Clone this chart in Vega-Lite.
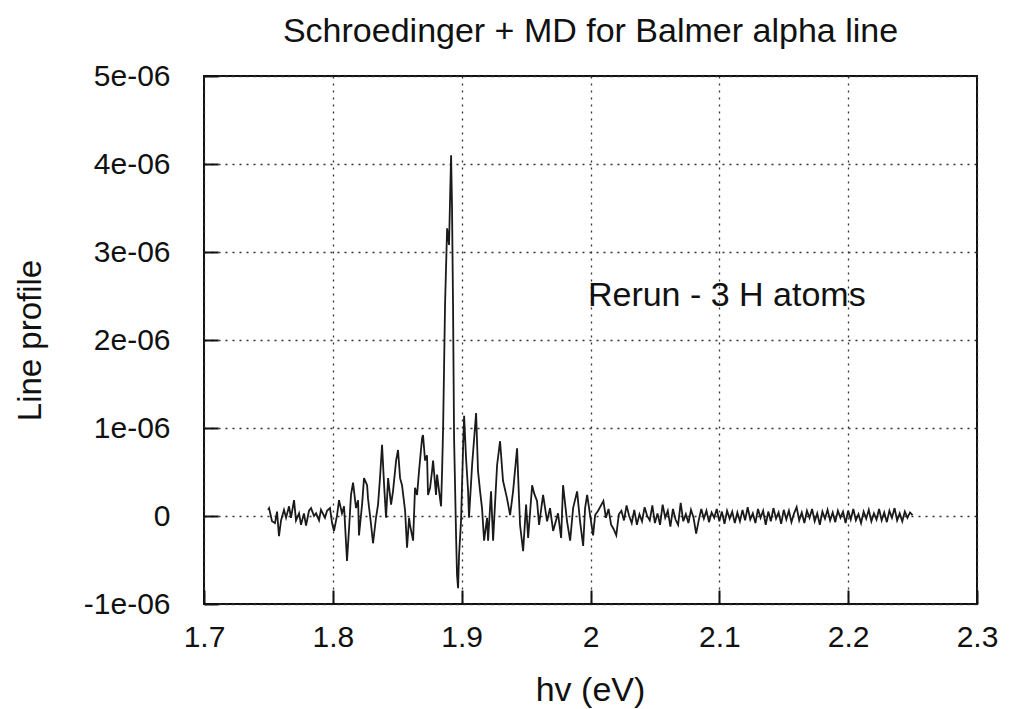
{
  "$schema": "https://vega.github.io/schema/vega-lite/v6.json",
  "width": 773,
  "height": 528,
  "autosize": {"type": "none"},
  "padding": {"left": 204, "top": 76, "right": 32, "bottom": 105},
  "background": "white",
  "title": {"text": "Schroedinger + MD for Balmer alpha line", "fontSize": 34, "font": "Liberation Sans", "fontWeight": "normal", "color": "#111", "offset": 12, "anchor": "middle"},
  "config": {"view": {"stroke": "#111", "strokeWidth": 2}},
  "layer": [
    {
      "data": {"values": [
        {"x": 1.7497, "y": 0.07e-6}, {"x": 1.7505, "y": 0.09e-6}, {"x": 1.7528, "y": -0.06e-6}, {"x": 1.7551, "y": -0.08e-6},
        {"x": 1.7567, "y": 0.05e-6}, {"x": 1.7582, "y": -0.23e-6}, {"x": 1.7598, "y": -0.05e-6}, {"x": 1.7621, "y": 0.07e-6},
        {"x": 1.7637, "y": -0.02e-6}, {"x": 1.7660, "y": 0.11e-6}, {"x": 1.7675, "y": -0.02e-6}, {"x": 1.7699, "y": 0.18e-6},
        {"x": 1.7714, "y": -0.05e-6}, {"x": 1.7738, "y": 0.03e-6}, {"x": 1.7753, "y": -0.10e-6}, {"x": 1.7776, "y": 0.03e-6},
        {"x": 1.7792, "y": -0.11e-6}, {"x": 1.7815, "y": 0.06e-6}, {"x": 1.7831, "y": 0.09e-6}, {"x": 1.7854, "y": 0},
        {"x": 1.7870, "y": 0.03e-6}, {"x": 1.7893, "y": -0.05e-6}, {"x": 1.7908, "y": 0.07e-6}, {"x": 1.7939, "y": -0.02e-6},
        {"x": 1.7955, "y": 0.06e-6}, {"x": 1.7978, "y": 0.09e-6}, {"x": 1.7994, "y": -0.08e-6}, {"x": 1.8009, "y": -0.17e-6},
        {"x": 1.8033, "y": 0.01e-6}, {"x": 1.8048, "y": 0.18e-6}, {"x": 1.8071, "y": 0.03e-6}, {"x": 1.8087, "y": 0.11e-6},
        {"x": 1.8110, "y": -0.51e-6}, {"x": 1.8126, "y": -0.14e-6}, {"x": 1.8141, "y": 0.24e-6}, {"x": 1.8157, "y": 0.38e-6},
        {"x": 1.8180, "y": 0.09e-6}, {"x": 1.8196, "y": 0.18e-6}, {"x": 1.8203, "y": -0.22e-6}, {"x": 1.8227, "y": 0.13e-6},
        {"x": 1.8242, "y": 0.43e-6}, {"x": 1.8266, "y": 0.35e-6}, {"x": 1.8273, "y": 0.20e-6}, {"x": 1.8297, "y": -0.10e-6},
        {"x": 1.8312, "y": -0.31e-6}, {"x": 1.8335, "y": -0.02e-6}, {"x": 1.8351, "y": 0.13e-6}, {"x": 1.8366, "y": 0.43e-6},
        {"x": 1.8382, "y": 0.81e-6}, {"x": 1.8398, "y": 0.35e-6}, {"x": 1.8413, "y": -0.02e-6}, {"x": 1.8429, "y": 0.43e-6},
        {"x": 1.8452, "y": 0.13e-6}, {"x": 1.8467, "y": 0.28e-6}, {"x": 1.8491, "y": 0.63e-6}, {"x": 1.8506, "y": 0.75e-6},
        {"x": 1.8522, "y": 0.43e-6}, {"x": 1.8537, "y": 0.35e-6}, {"x": 1.8561, "y": 0.06e-6}, {"x": 1.8576, "y": -0.36e-6},
        {"x": 1.8592, "y": -0.02e-6}, {"x": 1.8599, "y": -0.10e-6}, {"x": 1.8615, "y": -0.22e-6}, {"x": 1.8623, "y": -0.28e-6},
        {"x": 1.8638, "y": 0.32e-6}, {"x": 1.8654, "y": 0.24e-6}, {"x": 1.8669, "y": 0.51e-6}, {"x": 1.8693, "y": 0.89e-6},
        {"x": 1.8700, "y": 0.92e-6}, {"x": 1.8716, "y": 0.63e-6}, {"x": 1.8731, "y": 0.69e-6}, {"x": 1.8739, "y": 0.24e-6},
        {"x": 1.8755, "y": 0.32e-6}, {"x": 1.8770, "y": 0.51e-6}, {"x": 1.8778, "y": 0.63e-6}, {"x": 1.8801, "y": 0.24e-6},
        {"x": 1.8809, "y": 0.47e-6}, {"x": 1.8825, "y": 0.28e-6}, {"x": 1.8840, "y": 0.11e-6}, {"x": 1.8848, "y": 0.51e-6},
        {"x": 1.8856, "y": 1.00e-6}, {"x": 1.8871, "y": 2.40e-6}, {"x": 1.8887, "y": 3.27e-6}, {"x": 1.8902, "y": 3.08e-6},
        {"x": 1.8910, "y": 3.61e-6}, {"x": 1.8918, "y": 4.10e-6}, {"x": 1.8925, "y": 3.53e-6}, {"x": 1.8933, "y": 2.40e-6},
        {"x": 1.8941, "y": 0.89e-6}, {"x": 1.8957, "y": -0.25e-6}, {"x": 1.8964, "y": -0.67e-6}, {"x": 1.8972, "y": -0.82e-6},
        {"x": 1.8980, "y": -0.44e-6}, {"x": 1.8995, "y": -0.06e-6}, {"x": 1.9011, "y": 0.77e-6}, {"x": 1.9019, "y": 1.14e-6},
        {"x": 1.9034, "y": 0.66e-6}, {"x": 1.9050, "y": 0.28e-6}, {"x": 1.9057, "y": -0.02e-6}, {"x": 1.9081, "y": 0.58e-6},
        {"x": 1.9112, "y": 1.17e-6}, {"x": 1.9127, "y": 0.51e-6}, {"x": 1.9143, "y": 0.28e-6}, {"x": 1.9158, "y": 0.09e-6},
        {"x": 1.9174, "y": -0.28e-6}, {"x": 1.9197, "y": -0.02e-6}, {"x": 1.9205, "y": -0.28e-6}, {"x": 1.9228, "y": 0.28e-6},
        {"x": 1.9244, "y": -0.28e-6}, {"x": 1.9275, "y": 0.58e-6}, {"x": 1.9298, "y": 0.85e-6}, {"x": 1.9321, "y": 0.40e-6},
        {"x": 1.9352, "y": 0.20e-6}, {"x": 1.9376, "y": 0.01e-6}, {"x": 1.9399, "y": 0.28e-6}, {"x": 1.9430, "y": 0.77e-6},
        {"x": 1.9453, "y": -0.10e-6}, {"x": 1.9477, "y": -0.40e-6}, {"x": 1.9500, "y": 0.13e-6}, {"x": 1.9516, "y": -0.25e-6},
        {"x": 1.9547, "y": 0.35e-6}, {"x": 1.9562, "y": 0.26e-6}, {"x": 1.9585, "y": 0.17e-6}, {"x": 1.9601, "y": -0.10e-6},
        {"x": 1.9632, "y": 0.24e-6}, {"x": 1.9663, "y": -0.06e-6}, {"x": 1.9686, "y": 0.09e-6}, {"x": 1.9710, "y": -0.17e-6},
        {"x": 1.9748, "y": 0.03e-6}, {"x": 1.9772, "y": -0.25e-6}, {"x": 1.9787, "y": 0.35e-6}, {"x": 1.9818, "y": -0.06e-6},
        {"x": 1.9842, "y": -0.28e-6}, {"x": 1.9865, "y": 0.09e-6}, {"x": 1.9896, "y": 0.28e-6}, {"x": 1.9919, "y": -0.06e-6},
        {"x": 1.9943, "y": -0.34e-6}, {"x": 1.9958, "y": 0.09e-6}, {"x": 1.9974, "y": 0.24e-6}, {"x": 1.9997, "y": 0.01e-6},
        {"x": 2.0020, "y": -0.22e-6}, {"x": 2.0036, "y": 0.01e-6}, {"x": 2.0059, "y": 0.06e-6},
        {"x": 2.010, "y": 0.17e-6}, {"x": 2.012, "y": -0.02e-6}, {"x": 2.014, "y": 0.08e-6}, {"x": 2.016, "y": -0.10e-6},
        {"x": 2.018, "y": -0.15e-6}, {"x": 2.020, "y": -0.22e-6}, {"x": 2.022, "y": 0.02e-6}, {"x": 2.024, "y": 0.06e-6},
        {"x": 2.026, "y": -0.05e-6}, {"x": 2.028, "y": 0.12e-6}, {"x": 2.030, "y": 0.00}, {"x": 2.032, "y": -0.08e-6},
        {"x": 2.034, "y": 0.07e-6}, {"x": 2.036, "y": -0.10e-6}, {"x": 2.038, "y": 0.02e-6}, {"x": 2.040, "y": -0.06e-6},
        {"x": 2.042, "y": 0.10e-6}, {"x": 2.044, "y": 0.00}, {"x": 2.046, "y": -0.05e-6}, {"x": 2.048, "y": 0.12e-6},
        {"x": 2.050, "y": -0.08e-6}, {"x": 2.052, "y": 0.03e-6}, {"x": 2.054, "y": -0.10e-6}, {"x": 2.056, "y": 0.13e-6},
        {"x": 2.058, "y": -0.02e-6}, {"x": 2.060, "y": 0.06e-6}, {"x": 2.062, "y": -0.12e-6}, {"x": 2.064, "y": 0.08e-6},
        {"x": 2.066, "y": -0.04e-6}, {"x": 2.068, "y": -0.10e-6}, {"x": 2.070, "y": 0.15e-6}, {"x": 2.072, "y": -0.06e-6},
        {"x": 2.074, "y": 0.02e-6}, {"x": 2.076, "y": -0.08e-6}, {"x": 2.078, "y": 0.07e-6}, {"x": 2.080, "y": -0.02e-6},
        {"x": 2.082, "y": -0.20e-6}, {"x": 2.084, "y": -0.05e-6}, {"x": 2.086, "y": 0.08e-6}, {"x": 2.088, "y": -0.03e-6},
        {"x": 2.090, "y": 0.06e-6}, {"x": 2.092, "y": -0.07e-6}, {"x": 2.094, "y": 0.04e-6}, {"x": 2.096, "y": -0.02e-6},
        {"x": 2.098, "y": 0.08e-6}, {"x": 2.100, "y": -0.06e-6}, {"x": 2.102, "y": 0.05e-6}, {"x": 2.104, "y": -0.09e-6},
        {"x": 2.106, "y": 0.06e-6}, {"x": 2.108, "y": -0.03e-6}, {"x": 2.110, "y": 0.05e-6}, {"x": 2.112, "y": -0.08e-6},
        {"x": 2.114, "y": 0.04e-6}, {"x": 2.116, "y": -0.06e-6}, {"x": 2.118, "y": 0.07e-6}, {"x": 2.120, "y": -0.05e-6},
        {"x": 2.122, "y": 0.10e-6}, {"x": 2.124, "y": -0.04e-6}, {"x": 2.126, "y": 0.03e-6}, {"x": 2.128, "y": -0.08e-6},
        {"x": 2.130, "y": 0.08e-6}, {"x": 2.132, "y": -0.02e-6}, {"x": 2.134, "y": 0.06e-6}, {"x": 2.136, "y": -0.10e-6},
        {"x": 2.138, "y": 0.05e-6}, {"x": 2.140, "y": -0.06e-6}, {"x": 2.142, "y": 0.09e-6}, {"x": 2.144, "y": -0.03e-6},
        {"x": 2.146, "y": 0.04e-6}, {"x": 2.148, "y": -0.09e-6}, {"x": 2.150, "y": 0.07e-6}, {"x": 2.152, "y": -0.04e-6},
        {"x": 2.154, "y": 0.06e-6}, {"x": 2.156, "y": -0.07e-6}, {"x": 2.158, "y": 0.03e-6}, {"x": 2.160, "y": 0.10e-6},
        {"x": 2.162, "y": -0.05e-6}, {"x": 2.164, "y": 0.04e-6}, {"x": 2.166, "y": -0.08e-6}, {"x": 2.168, "y": 0.06e-6},
        {"x": 2.170, "y": -0.02e-6}, {"x": 2.172, "y": 0.08e-6}, {"x": 2.174, "y": -0.06e-6}, {"x": 2.176, "y": 0.03e-6},
        {"x": 2.178, "y": -0.10e-6}, {"x": 2.180, "y": 0.05e-6}, {"x": 2.182, "y": -0.03e-6}, {"x": 2.184, "y": 0.07e-6},
        {"x": 2.186, "y": -0.05e-6}, {"x": 2.188, "y": 0.04e-6}, {"x": 2.190, "y": -0.07e-6}, {"x": 2.192, "y": 0.06e-6},
        {"x": 2.194, "y": -0.02e-6}, {"x": 2.196, "y": 0.05e-6}, {"x": 2.198, "y": -0.08e-6}, {"x": 2.200, "y": 0.06e-6},
        {"x": 2.202, "y": -0.04e-6}, {"x": 2.204, "y": 0.08e-6}, {"x": 2.206, "y": -0.05e-6}, {"x": 2.208, "y": 0.02e-6},
        {"x": 2.210, "y": -0.08e-6}, {"x": 2.212, "y": 0.05e-6}, {"x": 2.214, "y": -0.03e-6}, {"x": 2.216, "y": 0.07e-6},
        {"x": 2.218, "y": -0.06e-6}, {"x": 2.220, "y": 0.03e-6}, {"x": 2.222, "y": -0.04e-6}, {"x": 2.224, "y": 0.08e-6},
        {"x": 2.226, "y": -0.05e-6}, {"x": 2.228, "y": 0.04e-6}, {"x": 2.230, "y": -0.07e-6}, {"x": 2.232, "y": 0.06e-6},
        {"x": 2.234, "y": -0.02e-6}, {"x": 2.236, "y": 0.09e-6}, {"x": 2.238, "y": -0.05e-6}, {"x": 2.240, "y": 0.03e-6},
        {"x": 2.242, "y": -0.06e-6}, {"x": 2.244, "y": 0.05e-6}, {"x": 2.246, "y": -0.02e-6}, {"x": 2.248, "y": 0.04e-6},
        {"x": 2.250, "y": 0.01e-6}
      ]},
      "mark": {"type": "line", "color": "#1a1a1a", "strokeWidth": 1.8, "clip": true},
      "encoding": {
        "x": {
          "field": "x", "type": "quantitative",
          "scale": {"domain": [1.7, 2.3], "nice": false, "zero": false},
          "axis": {
            "values": [1.7, 1.8, 1.9, 2, 2.1, 2.2, 2.3],
            "format": "~g",
            "title": "hv (eV)",
            "titleFont": "Liberation Sans", "titleFontSize": 34, "titleFontWeight": "normal", "titleColor": "#111",
            "titleX": 386, "titleY": 86, "titleAlign": "center", "titleBaseline": "middle",
            "labelFont": "Liberation Sans", "labelFontSize": 30, "labelColor": "#111",
            "labelPadding": 32, "labelFlush": false, "labelOverlap": false,
            "tickSize": -14, "tickWidth": 2, "tickColor": "#111",
            "domain": false,
            "grid": true, "gridDash": [2, 5], "gridColor": "#333", "gridWidth": 1.3
          }
        },
        "y": {
          "field": "y", "type": "quantitative",
          "scale": {"domain": [-0.000001, 0.000005], "nice": false, "zero": false},
          "axis": {
            "values": [-0.000001, 0, 0.000001, 0.000002, 0.000003, 0.000004, 0.000005],
            "labelExpr": "datum.value == 0 ? '0' : (datum.value < 0 ? '-' : '') + round(abs(datum.value) * 1e6) + 'e-06'",
            "title": "Line profile",
            "titleFont": "Liberation Sans", "titleFontSize": 33, "titleFontWeight": "normal", "titleColor": "#111",
            "titleX": -174, "titleY": 264, "titleAngle": -90, "titleAlign": "center", "titleBaseline": "middle",
            "labelFont": "Liberation Sans", "labelFontSize": 30, "labelColor": "#111",
            "labelPadding": 48, "labelFlush": false, "labelOverlap": false,
            "tickSize": -14, "tickWidth": 2, "tickColor": "#111",
            "domain": false,
            "grid": true, "gridDash": [2, 5], "gridColor": "#333", "gridWidth": 1.3
          }
        }
      }
    },
    {
      "data": {"values": [{}]},
      "mark": {"type": "text", "align": "left", "baseline": "middle", "font": "Liberation Sans", "fontSize": 34, "color": "#111"},
      "encoding": {
        "x": {"datum": 1.998, "type": "quantitative"},
        "y": {"datum": 0.0000025, "type": "quantitative"},
        "text": {"value": "Rerun - 3 H atoms"}
      }
    }
  ]
}
